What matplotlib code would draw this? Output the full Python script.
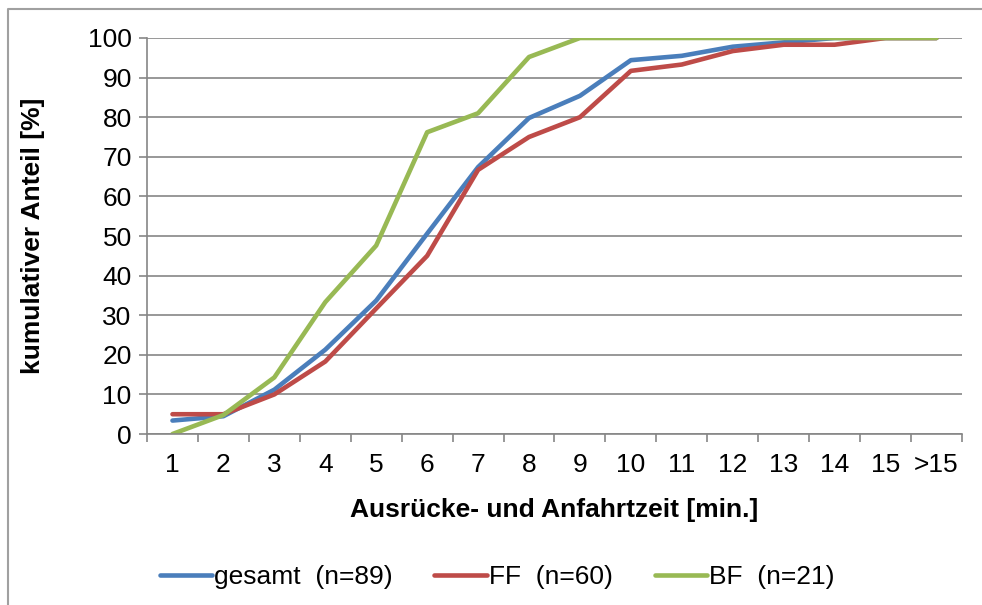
import matplotlib.pyplot as plt
from matplotlib.lines import Line2D
import numpy as np

plt.rcParams['font.family'] = ['Liberation Sans', 'DejaVu Sans']

# --- DATA ---
categories = ["1", "2", "3", "4", "5", "6", "7", "8", "9", "10",
              "11", "12", "13", "14", "15", ">15"]
gesamt = [3.4, 4.5, 11.2, 21.3, 33.7, 50.6, 67.4, 79.8, 85.4, 94.4,
          95.5, 97.8, 98.9, 100, 100, 100]
ff = [5.0, 5.0, 10.0, 18.3, 31.7, 45.0, 66.7, 75.0, 80.0, 91.7,
      93.3, 96.7, 98.3, 98.3, 100, 100]
bf = [0.0, 4.8, 14.3, 33.3, 47.6, 76.2, 81.0, 95.2, 100, 100,
      100, 100, 100, 100, 100, 100]
series_labels = ["gesamt  (n=89)", "FF  (n=60)", "BF  (n=21)"]
colors = ["#4A7EBB", "#BE4B48", "#98B954"]

grid_c = "#868686"
fs = 19

fig = plt.figure(figsize=(9.82, 6.05), dpi=100)
ax = fig.add_axes([0.1497, 0.2826, 0.8299, 0.6546])

x = np.arange(len(categories))
for vals, c, lab in zip([gesamt, ff, bf], colors, series_labels):
    ax.plot(x, vals, color=c, linewidth=3.3, label=lab, solid_capstyle='round')

ax.set_xlim(-0.5, len(categories) - 0.5)
ax.set_ylim(0, 100)
ax.set_yticks(np.arange(0, 101, 10))
ax.yaxis.grid(True, color=grid_c, linewidth=1.2)
ax.set_axisbelow(True)

ax.set_xticks(x)
ax.set_xticklabels(categories)
ax.set_xticks(np.arange(-0.5, len(categories), 1), minor=True)
ax.tick_params(axis='x', which='major', length=0, pad=14, labelsize=fs)
ax.tick_params(axis='x', which='minor', length=6, width=1.2, color=grid_c, direction='out')
ax.tick_params(axis='y', length=6, width=1.2, color=grid_c, pad=5, labelsize=fs)

for s in ['top', 'right']:
    ax.spines[s].set_visible(False)
for s in ['left', 'bottom']:
    ax.spines[s].set_color(grid_c)
    ax.spines[s].set_linewidth(1.2)

ax.set_xlabel("Ausrücke- und Anfahrtzeit [min.]", fontsize=fs, fontweight='bold', labelpad=15)
ax.set_ylabel("kumulativer Anteil [%]", fontsize=fs, fontweight='bold', labelpad=31)

handles = [Line2D([0], [0], color=c, linewidth=3.3, solid_capstyle='round') for c in colors]
fig.legend(handles, series_labels, loc='center', bbox_to_anchor=(0.506, 0.046),
           ncol=3, frameon=False, fontsize=fs, handlelength=2.0,
           handletextpad=0.05, columnspacing=1.6)

# chart area border (top and left visible)
fig.add_artist(Line2D([0.008, 0.008, 1.0], [0.0, 0.985, 0.985],
                      transform=fig.transFigure, color="#A0A0A0", linewidth=1.5))

plt.savefig("out.png", dpi=100)
